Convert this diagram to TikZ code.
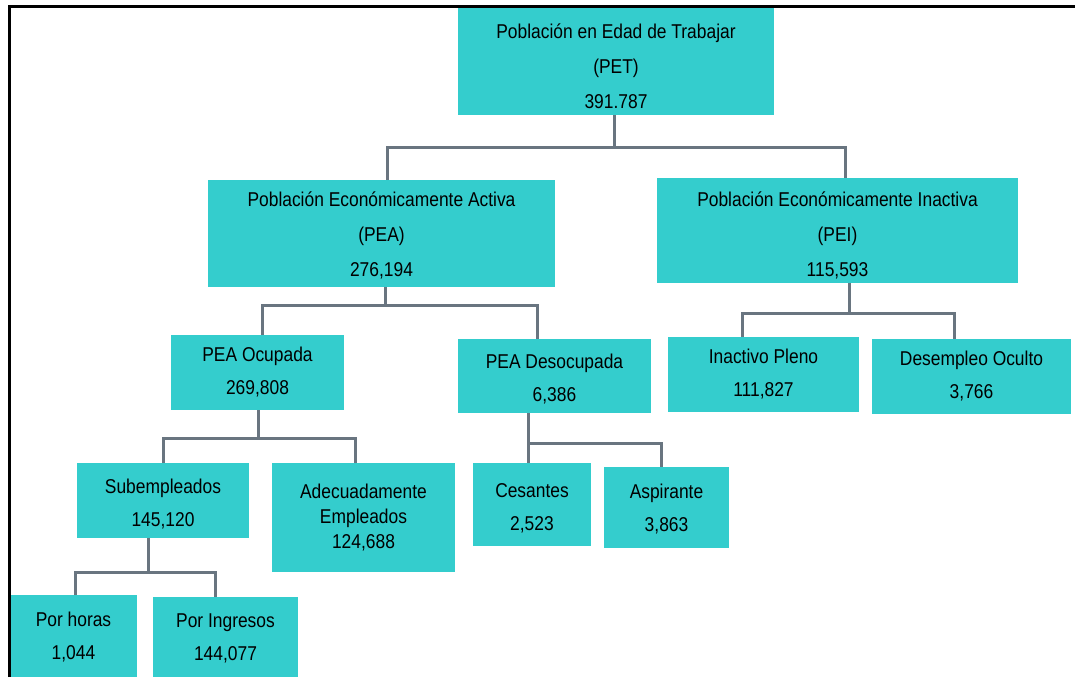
\documentclass[tikz,border=0pt]{standalone}
\usepackage{fontspec}
\setmainfont{Liberation Sans}[FakeStretch=0.87]
\definecolor{boxfill}{RGB}{52,205,205}
\definecolor{linegrey}{RGB}{105,117,128}
% first line pushed down: raises the top of the text block by 2*#1
\newcommand\pushdown[2]{\setbox0\hbox{#2}\rule{0pt}{\dimexpr\ht0+#1+#1\relax}\box0}
\tikzset{
  box/.style={fill=boxfill, draw=none, inner sep=0pt, align=center, text=black,
              font=\fontsize{20}{33}\selectfont},
  bigbox/.style={box, font=\fontsize{20}{35}\selectfont},
  tightbox/.style={box, font=\fontsize{20}{25}\selectfont},
  conn/.style={draw=linegrey, line width=3pt},
  frameline/.style={draw=black, line width=3pt},
}
\begin{document}
\begin{tikzpicture}[x=1pt,y=-1pt]
\useasboundingbox (0,0) rectangle (1075,677);

% boxes
\node[bigbox, minimum width=316pt, minimum height=107pt] (pet) at (616,61.5)
  {\pushdown{4.5pt}{Población en Edad de Trabajar}\\(PET)\\391.787};
\node[bigbox, minimum width=347pt, minimum height=107pt] (pea) at (381.5,233.5)
  {\pushdown{2pt}{Población Económicamente Activa}\\(PEA)\\276,194};
\node[bigbox, minimum width=361pt, minimum height=105pt] (pei) at (837.5,230.5)
  {\pushdown{5pt}{Población Económicamente Inactiva}\\(PEI)\\115,593};

\node[box, minimum width=173pt, minimum height=75pt] (ocu) at (257.5,372.5)
  {PEA Ocupada\\269,808};
\node[box, minimum width=193pt, minimum height=74pt] (des) at (554.5,376)
  {\pushdown{3pt}{PEA Desocupada}\\6,386};
\node[box, minimum width=191pt, minimum height=75pt] (ina) at (763.5,374.5)
  {Inactivo Pleno\\111,827};
\node[box, minimum width=199pt, minimum height=75pt] (dso) at (971.5,376.5)
  {Desempleo Oculto\\3,766};

\node[box, minimum width=172pt, minimum height=75pt] (sub) at (163,500.5)
  {\pushdown{4pt}{Subempleados}\\145,120};
\node[tightbox, minimum width=183pt, minimum height=109pt] (ade) at (363.5,517.5)
  {Adecuadamente\\Empleados\\124,688};
\node[box, minimum width=118pt, minimum height=83pt] (ces) at (532,504.5)
  {\pushdown{4pt}{Cesantes}\\2,523};
\node[box, minimum width=125pt, minimum height=81pt] (asp) at (666.5,507.5)
  {\pushdown{2pt}{Aspirante}\\3,863};

\node[box, minimum width=127pt, minimum height=82pt] (hor) at (73.5,636)
  {\pushdown{1.5pt}{Por horas}\\1,044};
\node[box, minimum width=145pt, minimum height=80pt] (ing) at (225.5,637)
  {\pushdown{1.5pt}{Por Ingresos}\\144,077};

% connectors
\draw[conn] ([xshift=-2pt]pet.south) -- ++(0,32) coordinate (bus1);
\draw[conn] ([xshift=5.5pt]pea.north) |- (bus1) -| ([xshift=7.5pt]pei.north);

\draw[conn] ([xshift=3.5pt]pea.south) -- ++(0,18) coordinate (bus2);
\draw[conn] ([xshift=4.5pt]ocu.north) |- (bus2) -| ([xshift=-17.5pt]des.north);

\draw[conn] ([xshift=11.5pt]pei.south) -- ++(0,30) coordinate (bus3);
\draw[conn] ([xshift=-21.5pt]ina.north) |- (bus3) -| ([xshift=-17pt]dso.north);

\draw[conn] ([xshift=0.5pt]ocu.south) -- ++(0,28) coordinate (bus4);
\draw[conn] (sub.north) |- (bus4) -| ([xshift=-8.5pt]ade.north);

\draw[conn] ([xshift=-26.5pt]des.south) -- ++(0,30) coordinate (bus5);
\draw[conn] ([xshift=-4pt]ces.north) |- (bus5) -| ([xshift=-5.5pt]asp.north);

\draw[conn] ([xshift=-15pt]sub.south) -- ++(0,34) coordinate (bus6);
\draw[conn] ([xshift=1.5pt]hor.north) |- (bus6) -| ([xshift=-10.5pt]ing.north);

% frame
\draw[frameline] (9,677) -- (9,7) -- (1075,7);
\end{tikzpicture}
\end{document}
